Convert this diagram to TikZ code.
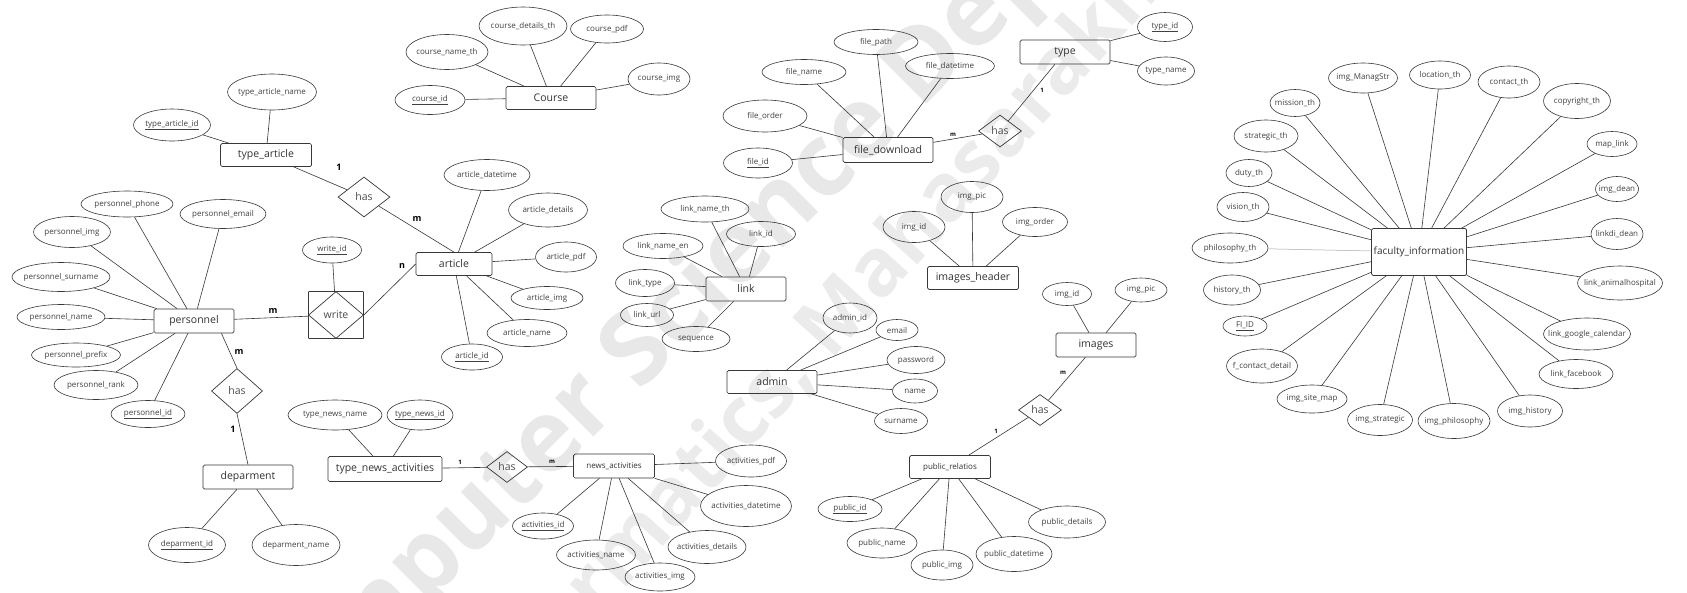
\documentclass[tikz,border=0pt]{standalone}
\usepackage{fontspec}
\setmainfont{Open Sans}
\usetikzlibrary{shapes.geometric,calc}
\newcommand{\zb}[1]{\hbox to 0pt{\hss#1\hss}}
\tikzset{
  attr/.style={ellipse, draw=black!78, line width=0.6pt, inner sep=0pt, font=\fontsize{8}{9}\selectfont, text=black!75},
  ent/.style={rectangle, draw=black!78, rounded corners=1.5pt, line width=0.7pt, inner sep=0pt, font=\fontsize{10.5}{11}\selectfont, text=black!80},
  sment/.style={ent, font=\fontsize{8}{9}\selectfont},
  rel/.style={diamond, draw=black!78, line width=0.7pt, inner sep=0pt, font=\fontsize{10.5}{11}\selectfont, text=black!70},
  sz/.style 2 args={minimum width=#1, minimum height=#2},
  conn/.style={draw=black!78, line width=0.6pt},
  card/.style={font=\bfseries\fontsize{9}{9}\selectfont, inner sep=0pt},
  smcard/.style={font=\bfseries\fontsize{6}{6}\selectfont, inner sep=0pt},
  wm/.style={font=\bfseries\fontsize{100}{100}\selectfont, text=black!9, inner sep=0pt},
  wmb/.style={font=\bfseries\fontsize{80}{80}\selectfont, text=black!8, inner sep=0pt}
}
\begin{document}
\begin{tikzpicture}[x=1pt,y=-1pt]
\useasboundingbox (0,0) rectangle (1687,592);
\fill[white] (0,0) rectangle (1687,592);

% watermark
\begin{scope}
\clip (0,0) rectangle (1687,592);
\node[wm, rotate=45] (wma) at (645,350) {Computer Science Dep};
\node[wmb, rotate=48] (wmb) at (851,300) {Informatics, Mahasarakham};
\end{scope}

% ---------------- type_article / personnel / department
\node[attr,sz={89}{36}] (tan) at (272,92) {\zb{type\_article\_name}};
\node[attr,sz={77}{32}] (taid) at (172,125) {\zb{\underline{type\_article\_id}}};
\node[ent,sz={91}{23}] (ta) at (266,155) {\zb{type\_article}};
\node[rel,sz={52}{40}] (has1) at (364,197) {\zb{has}};

\node[attr,sz={92}{26}] (pphone) at (127,204) {\zb{personnel\_phone}};
\node[attr,sz={86}{29}] (pemail) at (223,214) {\zb{personnel\_email}};
\node[attr,sz={77}{31}] (pimg) at (72,232) {\zb{personnel\_img}};
\node[attr,sz={98}{29}] (psurname) at (61,277) {\zb{personnel\_surname}};
\node[attr,sz={88}{25}] (pname) at (61,317) {\zb{personnel\_name}};
\node[ent,sz={80}{24}] (per) at (194,321) {\zb{personnel}};
\node[attr,sz={89}{24}] (pprefix) at (76,355) {\zb{personnel\_prefix}};
\node[attr,sz={84}{29}] (prank) at (96,385) {\zb{personnel\_rank}};
\node[attr,sz={74}{27}] (pid) at (148,414) {\zb{\underline{personnel\_id}}};
\node[rel,sz={51}{45}] (has2) at (237,391) {\zb{has}};
\node[ent,sz={90}{24}] (dep) at (248,477) {\zb{deparment}};
\node[attr,sz={77}{35}] (depid) at (187,545) {\zb{\underline{deparment\_id}}};
\node[attr,sz={88}{41}] (depname) at (296,545) {\zb{deparment\_name}};

% ---------------- Course
\node[attr,sz={88}{38}] (cdet) at (523,26) {\zb{course\_details\_th}};
\node[attr,sz={73}{28}] (cpdf) at (607,29) {\zb{course\_pdf}};
\node[attr,sz={82}{35}] (cname) at (447,52) {\zb{course\_name\_th}};
\node[attr,sz={62}{32}] (cimg) at (659,79) {\zb{course\_img}};
\node[attr,sz={70}{29}] (cid) at (430,100) {\zb{\underline{course\_id}}};
\node[ent,sz={90}{23}] (course) at (551,98) {\zb{Course}};

% ---------------- article
\node[attr,sz={86}{31}] (adt) at (487,175) {\zb{article\_datetime}};
\node[attr,sz={79}{34}] (adet) at (548,210) {\zb{article\_details}};
\node[attr,sz={59}{26}] (wid) at (332,250) {\zb{\underline{write\_id}}};
\node[attr,sz={61}{30}] (apdf) at (566,257) {\zb{article\_pdf}};
\node[ent,sz={76}{23}] (art) at (454,264) {\zb{article}};
\node[ent,sz={55}{47},rounded corners=0.5pt] (write) at (336,315) {};
\node[rel,sz={55}{47}] (writed) at (336,315) {\zb{write}};
\node[attr,sz={72}{23}] (aimg) at (547,298) {\zb{article\_img}};
\node[attr,sz={80}{27}] (aname) at (527,333) {\zb{article\_name}};
\node[attr,sz={61}{26}] (aid) at (472,357) {\zb{\underline{article\_id}}};

% ---------------- news
\node[attr,sz={94}{30}] (tnn) at (335,415) {\zb{type\_news\_name}};
\node[attr,sz={66}{30}] (tnid) at (420,415) {\zb{\underline{type\_news\_id}}};
\node[ent,sz={114}{25}] (tna) at (385,469) {\zb{type\_news\_activities}};
\node[rel,sz={41}{31}] (has3) at (507,467) {\zb{has}};
\node[sment,sz={81}{24}] (na) at (614,466) {\zb{news\_activities}};
\node[attr,sz={71}{32}] (actpdf) at (751,461) {\zb{activities\_pdf}};
\node[attr,sz={91}{41}] (actdt) at (746,506) {\zb{activities\_datetime}};
\node[attr,sz={61}{26}] (actid) at (543,526) {\zb{\underline{activities\_id}}};
\node[attr,sz={78}{33}] (actdet) at (707,547) {\zb{activities\_details}};
\node[attr,sz={79}{30}] (actname) at (596,555) {\zb{activities\_name}};
\node[attr,sz={70}{28}] (actimg) at (660,577) {\zb{activities\_img}};

% ---------------- link
\node[attr,sz={88}{26}] (lnth) at (705,209) {\zb{link\_name\_th}};
\node[attr,sz={69}{25}] (lid) at (761,234) {\zb{link\_id}};
\node[attr,sz={80}{25}] (lnen) at (663,246) {\zb{link\_name\_en}};
\node[attr,sz={59}{27}] (ltype) at (645,283) {\zb{link\_type}};
\node[ent,sz={80}{24}] (link) at (746,289) {\zb{link}};
\node[attr,sz={53}{23}] (lurl) at (647,315) {\zb{link\_url}};
\node[attr,sz={68}{25}] (lseq) at (696,339) {\zb{sequence}};

% ---------------- admin
\node[attr,sz={54}{30}] (admid) at (850,318) {\zb{admin\_id}};
\node[ent,sz={90}{23}] (admin) at (772,382) {\zb{admin}};
\node[attr,sz={42}{21}] (email) at (897,330) {\zb{email}};
\node[attr,sz={58}{27}] (pwd) at (916,360) {\zb{password}};
\node[attr,sz={45}{24}] (aname2) at (915,391) {\zb{name}};
\node[attr,sz={53}{25}] (asurname) at (901,421) {\zb{surname}};

% ---------------- images_header
\node[attr,sz={62}{31}] (ihpic) at (972,197) {\zb{img\_pic}};
\node[attr,sz={62}{31}] (ihid) at (914,227) {\zb{img\_id}};
\node[attr,sz={65}{29}] (ihorder) at (1035,222) {\zb{img\_order}};
\node[ent,sz={91}{23}] (ih) at (973,278) {\zb{images\_header}};

% ---------------- images / public
\node[attr,sz={49}{23}] (iid) at (1067,294) {\zb{img\_id}};
\node[attr,sz={52}{24}] (ipic) at (1141,290) {\zb{img\_pic}};
\node[ent,sz={80}{24}] (img) at (1096,345) {\zb{images}};
\node[rel,sz={43}{31}] (has4) at (1040,410) {\zb{has}};
\node[sment,sz={81}{23}] (pr) at (950,467) {\zb{public\_relatios}};
\node[attr,sz={64}{25}] (pubid) at (850,509) {\zb{\underline{public\_id}}};
\node[attr,sz={77}{32}] (pubdet) at (1067,522) {\zb{public\_details}};
\node[attr,sz={70}{30}] (pubname) at (882,543) {\zb{public\_name}};
\node[attr,sz={76}{35}] (pubdt) at (1014,554) {\zb{public\_datetime}};
\node[attr,sz={62}{30}] (pubimg) at (942,565) {\zb{public\_img}};

% ---------------- file_download / type
\node[attr,sz={84}{25}] (fpath) at (876,42) {\zb{file\_path}};
\node[attr,sz={84}{25}] (fname) at (804,72) {\zb{file\_name}};
\node[attr,sz={89}{25}] (fdt) at (950,66) {\zb{file\_datetime}};
\node[attr,sz={84}{32}] (forder) at (765,116) {\zb{file\_order}};
\node[attr,sz={69}{30}] (fid) at (758,163) {\zb{\underline{file\_id}}};
\node[ent,sz={90}{25}] (fd) at (888,150) {\zb{file\_download}};
\node[rel,sz={43}{32}] (has5) at (1000,131) {\zb{has}};
\node[ent,sz={90}{24}] (type) at (1065,52) {\zb{type}};
\node[attr,sz={55}{29}] (typeid) at (1165,27) {\zb{\underline{type\_id}}};
\node[attr,sz={57}{28}] (typename) at (1166,71) {\zb{type\_name}};

% ---------------- faculty_information
\node[ent,sz={95}{47},font=\fontsize{10}{11}\selectfont] (fi) at (1419,252) {\zb{faculty\_information}};
\node[attr,sz={69}{30}] (imgms) at (1363,78) {\zb{img\_ManagStr}};
\node[attr,sz={61}{28}] (loc) at (1440,75) {\zb{location\_th}};
\node[attr,sz={62}{32}] (contact) at (1509,82) {\zb{contact\_th}};
\node[attr,sz={67}{35}] (copy) at (1577,101) {\zb{copyright\_th}};
\node[attr,sz={50}{27}] (mission) at (1295,103) {\zb{mission\_th}};
\node[attr,sz={64}{32}] (strat) at (1266,136) {\zb{strategic\_th}};
\node[attr,sz={50}{25}] (maplink) at (1612,144) {\zb{map\_link}};
\node[attr,sz={46}{27}] (duty) at (1249,173) {\zb{duty\_th}};
\node[attr,sz={43}{25}] (imgdean) at (1617,189) {\zb{img\_dean}};
\node[attr,sz={52}{29}] (vision) at (1243,207) {\zb{vision\_th}};
\node[attr,sz={52}{31}] (linkdi) at (1617,234) {\zb{linkdi\_dean}};
\node[attr,sz={76}{30}] (philo) at (1230,248) {\zb{philosophy\_th}};
\node[attr,sz={57}{30}] (hist) at (1232,290) {\zb{history\_th}};
\node[attr,sz={85}{34}] (animal) at (1620,283) {\zb{link\_animalhospital}};
\node[attr,sz={44}{20}] (fiid) at (1245,326) {\zb{\underline{FI\_ID}}};
\node[attr,sz={87}{32}] (gcal) at (1587,334) {\zb{link\_google\_calendar}};
\node[attr,sz={71}{34}] (fcontact) at (1262,366) {\zb{f\_contact\_detail}};
\node[attr,sz={74}{29}] (fb) at (1576,374) {\zb{link\_facebook}};
\node[attr,sz={70}{28}] (sitemap) at (1312,399) {\zb{img\_site\_map}};
\node[attr,sz={65}{31}] (imgstrat) at (1380,420) {\zb{img\_strategic}};
\node[attr,sz={72}{35}] (imgphilo) at (1454,421) {\zb{img\_philosophy}};
\node[attr,sz={65}{32}] (imghist) at (1530,411) {\zb{img\_history}};

% ================= connectors
\draw[conn] (tan) -- (ta);
\draw[conn] (taid) -- (ta);
\draw[conn] (ta) -- (has1);
\draw[conn] (has1) -- (art.north);
\foreach \a in {pphone,pemail,pimg,psurname,pname,pprefix,prank,pid} \draw[conn] (\a) -- (per);
\draw[conn] (per) -- (write);
\draw[conn] (wid) -- (write);
\draw[conn] (write.east) -- (art.west);
\draw[conn] ($(per.south west)!0.84!(per.south east)$) -- (has2.north);
\draw[conn] (has2.south) -- (dep.north);
\draw[conn] (dep) -- (depid);
\draw[conn] (dep) -- (depname);

\foreach \a in {cdet,cpdf,cname,cimg,cid} \draw[conn] (\a) -- (course);
\foreach \a in {adt,adet,apdf,aimg,aname,aid} \draw[conn] (\a) -- (art);

\draw[conn] (tnn) -- (tna);
\draw[conn] (tnid) -- (tna);
\draw[conn] (tna) -- (has3);
\draw[conn] (has3) -- (na);
\foreach \a in {actpdf,actdt,actid,actdet,actname,actimg} \draw[conn] (\a) -- (na);

\foreach \a in {lnth,lid,lnen,ltype,lurl,lseq} \draw[conn] (\a) -- (link);
\foreach \a in {admid,email,pwd,aname2,asurname} \draw[conn] (\a) -- (admin);
\foreach \a in {ihpic,ihid,ihorder} \draw[conn] (\a) -- (ih);

\draw[conn] (iid) -- (img);
\draw[conn] (ipic) -- (img);
\draw[conn] (img) -- (has4);
\draw[conn] (has4) -- (pr);
\foreach \a in {pubid,pubdet,pubname,pubdt,pubimg} \draw[conn] (\a) -- (pr);

\foreach \a in {fpath,fname,fdt,forder,fid} \draw[conn] (\a) -- (fd);
\draw[conn] (fd) -- (has5);
\draw[conn] (has5) -- (type);
\draw[conn] (typeid) -- (type);
\draw[conn] (typename) -- (type);

\foreach \a in {imgms,loc,contact,copy,mission,strat,maplink,duty,imgdean,vision,linkdi,hist,animal,fiid,gcal,fcontact,fb,sitemap,imgstrat,imgphilo,imghist} \draw[conn] (\a) -- (fi);
\draw[draw=black!35, line width=0.5pt] (philo) -- (fi);

% ================= cardinalities
\node[card] (k1) at (339,167) {1};
\node[card] (k2) at (417,219) {m};
\node[card] (k3) at (273,311) {m};
\node[card] (k4) at (402,266) {n};
\node[card] (k5) at (239,352) {m};
\node[card] (k6) at (233,429) {1};
\node[smcard] (k7) at (460,462) {1};
\node[smcard] (k8) at (552,462) {m};
\node[smcard] (k9) at (953,135) {m};
\node[smcard] (k10) at (1042,90) {1};
\node[smcard] (k11) at (1063,373) {m};
\node[smcard] (k12) at (996,431) {1};
\end{tikzpicture}
\end{document}
